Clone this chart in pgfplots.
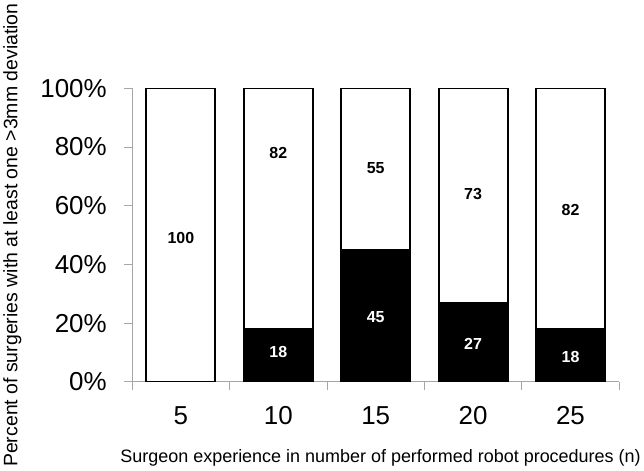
\documentclass[border=0pt]{standalone}
\usepackage{pgfplots}
\pgfplotsset{compat=1.18}
\usepackage{fontspec}
\setmainfont{Liberation Sans}
\tikzset{lbl/.style={font=\bfseries\fontsize{16}{18}\selectfont}}
\pgfplotsset{common/.style={scale only axis, width=488pt, height=294pt, xmin=-0.5, xmax=4.5, ymin=0, ymax=100}}
\begin{document}
\begin{tikzpicture}
\begin{axis}[
  common,
  ybar stacked,
  bar width=69pt,
  axis x line*=bottom,
  axis y line*=left,
  axis line style={draw=black!35, line width=0.8pt},
  xtick={0,1,2,3,4},
  xticklabels={5,10,15,20,25},
  major x tick style={draw=none},
  minor xtick={-0.5,0.5,1.5,2.5,3.5,4.5},
  minor x tick style={draw=black!35, line width=0.8pt},
  minor tick length=8pt,
  ytick={0,20,40,60,80,100},
  yticklabel={\pgfmathprintnumber{\tick}\%},
  major y tick style={draw=black!35, line width=0.8pt},
  major tick length=8pt,
  tick align=outside,
  /pgf/number format/assume math mode=true,
  ticklabel style={font=\fontsize{26}{30}\selectfont},
  xticklabel style={yshift=-13pt},
  yticklabel style={xshift=-14pt},
  ylabel={Percent of surgeries with at least one >3mm deviation},
  ylabel style={font=\fontsize{19.5}{22}\selectfont, at={(axis description cs:-0.246,0.5)}, anchor=center},
  xlabel={Surgeon experience in number of performed robot procedures (n)},
  xlabel style={font=\fontsize{18}{21}\selectfont, at={(axis description cs:0.51,-0.259)}, anchor=center},
]
\addplot[fill=black, draw=black, line width=2pt] coordinates {(0,0) (1,18) (2,45) (3,27) (4,18)};
\addplot[fill=white, draw=black, line width=2pt] coordinates {(0,100) (1,82) (2,55) (3,73) (4,82)};
\end{axis}
\begin{axis}[common, hide axis]
\node[lbl] at (axis cs:0,49) {100};
\node[lbl] at (axis cs:1,78) {82};
\node[lbl, text=white] at (axis cs:1,10) {18};
\node[lbl] at (axis cs:2,73) {55};
\node[lbl, text=white] at (axis cs:2,22) {45};
\node[lbl] at (axis cs:3,64) {73};
\node[lbl, text=white] at (axis cs:3,13) {27};
\node[lbl] at (axis cs:4,58.5) {82};
\node[lbl, text=white] at (axis cs:4,8.5) {18};
\end{axis}
\end{tikzpicture}
\end{document}
